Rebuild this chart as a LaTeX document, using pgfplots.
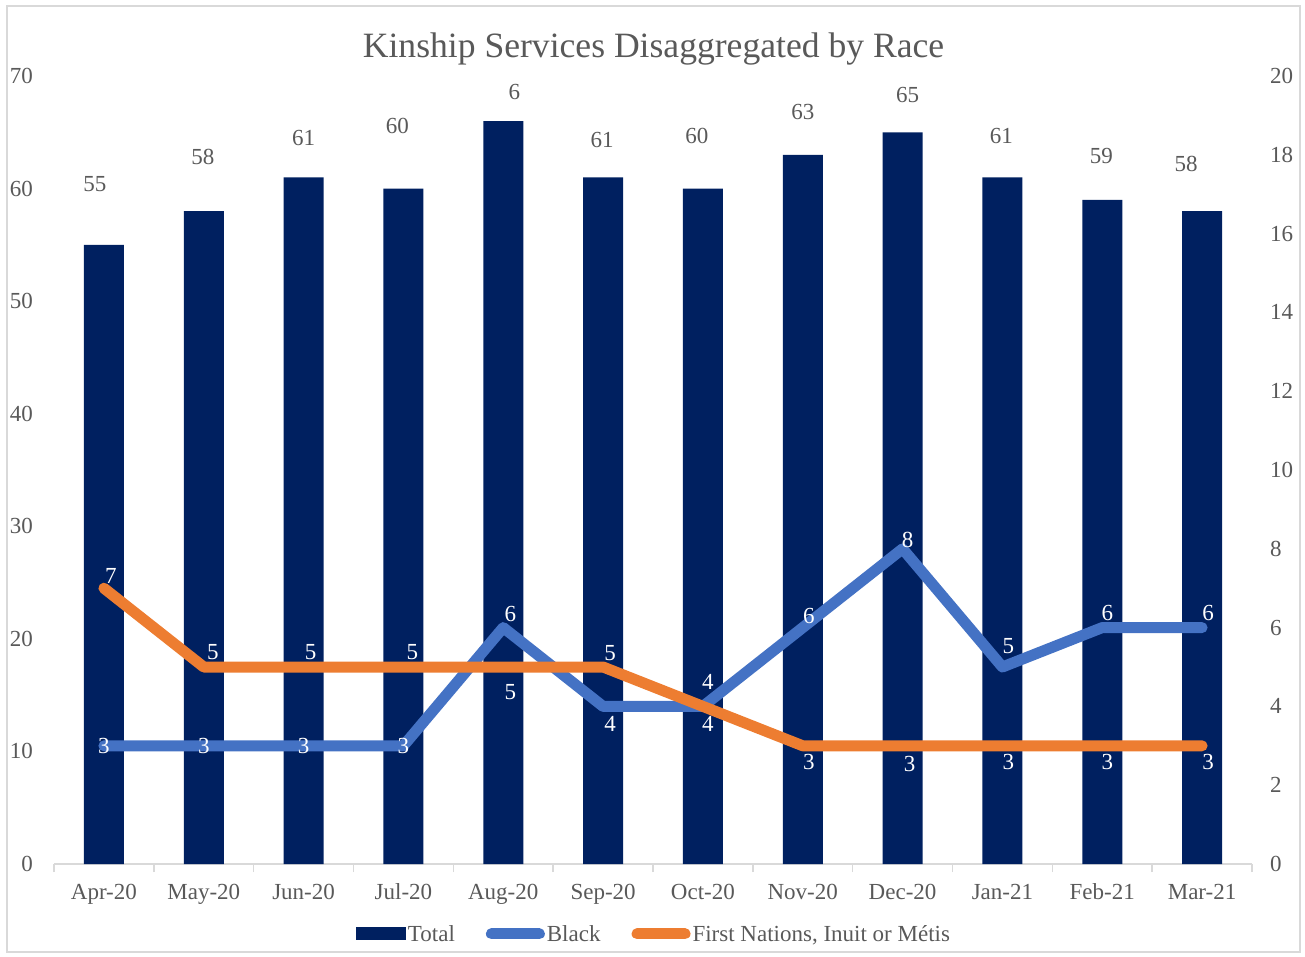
\documentclass[border=0pt]{standalone}
\usepackage{pgfplots}
\pgfplotsset{compat=1.18}
\usepackage{pgfplotstable}
\usepackage{fontspec}
\setmainfont{Liberation Serif}
\definecolor{navyc}{HTML}{002060}
\definecolor{blueline}{HTML}{4472C4}
\definecolor{orangeline}{HTML}{ED7D31}
\definecolor{txt}{HTML}{595959}
\definecolor{gridc}{HTML}{D9D9D9}

\pgfplotstableread{
x total tlab tdx tdy
0  55 55  -9 61
1  58 58  -1 54
2  61 61   0 39
3  60 60  -6 63
4  66 6   11 29
5  61 61  -1 37
6  60 60  -6 53
7  63 63   0 43
8  65 65   5 37
9  61 61  -1 41
10 59 59  -1 44
11 58 58 -16 47
}\totaltab

\pgfplotstableread{
x black bdx bdy fn fdx fdy
0  3 0   0  7 7  12
1  3 0   0  5 9  15
2  3 0   0  5 7  15
3  3 0   0  5 9  15
4  6 7  14  5 7 -25
5  4 7 -18  5 7  14
6  4 5 -18  4 5  24
7  6 6  12  3 6 -16
8  8 5   9  3 7 -18
9  5 6  21  3 6 -16
10 6 5  15  3 5 -16
11 6 6  15  3 6 -16
}\linetab

\newcommand{\lblfont}{\fontsize{23}{27}\selectfont}

\begin{document}
\begin{tikzpicture}
\useasboundingbox (0pt,0pt) rectangle (1305pt,956pt);
\draw[gridc, line width=1.5pt] (7pt,4pt) rectangle (1300pt,950pt);
\node[font=\fontsize{35.6}{42}\selectfont, text=txt, anchor=base] at (653.5pt,898pt) {Kinship Services Disaggregated by Race};

\begin{axis}[
  at={(54pt,92pt)}, anchor=south west,
  scale only axis, width=1198pt, height=788pt,
  xmin=-0.5, xmax=11.5, ymin=0, ymax=70,
  ytick={0,10,...,70},
  xtick={0,...,11},
  xticklabels={Apr-20,May-20,Jun-20,Jul-20,Aug-20,Sep-20,Oct-20,Nov-20,Dec-20,Jan-21,Feb-21,Mar-21},
  axis x line*=bottom, axis y line*=left,
  x axis line style={draw=gridc, line width=1.5pt, -},
  y axis line style={draw=none},
  major tick length=0pt,
  extra x ticks={-0.5,0.5,...,11.5},
  extra x tick labels={},
  extra x tick style={major tick length=8pt, tick align=outside, tick style={draw=gridc, line width=1.5pt}},
  tick label style={font=\lblfont, text=txt},
  /pgf/number format/assume math mode=true,
  yticklabel style={anchor=east, inner sep=0pt, xshift=-21pt},
  xticklabel style={anchor=base, inner sep=0pt, yshift=-35.5pt},
  clip=false,
  legend columns=3,
  legend style={at={(axis description cs:0.5,-0.0888)}, anchor=center, draw=none, fill=none,
    font=\lblfont, text=txt,
    nodes={inner sep=0pt},
    /tikz/every odd column/.append style={column sep=2pt},
    /tikz/every even column/.append style={column sep=31pt}},
]
\addplot[ybar, bar width=40pt, bar shift=0pt, fill=navyc, draw=none,
   nodes near coords, point meta=explicit symbolic,
   visualization depends on={\thisrow{tdx} \as \mydx},
   visualization depends on={\thisrow{tdy} \as \mydy},
   every node near coord/.append style={anchor=center, inner sep=0pt, xshift=\mydx pt, yshift=\mydy pt, font=\lblfont, text=txt},
   legend image code/.code={\fill[navyc] (0pt,-6.5pt) rectangle (50pt,6.5pt);}
] table[x=x, y=total, meta=tlab] {\totaltab};
\addlegendentry{Total}
\addlegendimage{legend image code/.code={\draw[blueline, line width=11pt, line cap=round] (5.5pt,0pt) -- (53.5pt,0pt);}}
\addlegendentry{Black}
\addlegendimage{legend image code/.code={\draw[orangeline, line width=11pt, line cap=round] (5.5pt,0pt) -- (53.5pt,0pt);}}
\addlegendentry{First Nations, Inuit or Métis}
\end{axis}

\begin{axis}[
  at={(54pt,92pt)}, anchor=south west,
  scale only axis, width=1198pt, height=788pt,
  xmin=-0.5, xmax=11.5, ymin=0, ymax=20,
  ytick={0,2,...,20},
  axis x line=none, axis y line*=right,
  y axis line style={draw=none},
  major tick length=0pt,
  tick label style={font=\lblfont, text=txt},
  /pgf/number format/assume math mode=true,
  yticklabel style={anchor=west, inner sep=0pt, xshift=18pt},
  clip=false,
]
\addplot[blueline, line width=11pt, line cap=round, line join=round, no markers,
   nodes near coords, point meta=explicit symbolic,
   visualization depends on={\thisrow{bdx} \as \mydx},
   visualization depends on={\thisrow{bdy} \as \mydy},
   every node near coord/.append style={anchor=center, inner sep=0pt, xshift=\mydx pt, yshift=\mydy pt, font=\lblfont, text=white}
] table[x=x, y=black, meta=black] {\linetab};
\addplot[orangeline, line width=11pt, line cap=round, line join=round, no markers,
   nodes near coords, point meta=explicit symbolic,
   visualization depends on={\thisrow{fdx} \as \mydx},
   visualization depends on={\thisrow{fdy} \as \mydy},
   every node near coord/.append style={anchor=center, inner sep=0pt, xshift=\mydx pt, yshift=\mydy pt, font=\lblfont, text=white}
] table[x=x, y=fn, meta=fn] {\linetab};
\end{axis}
\end{tikzpicture}
\end{document}
